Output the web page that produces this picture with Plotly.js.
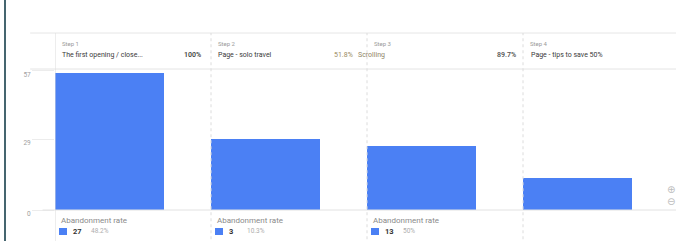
<!DOCTYPE html>
<html>
<head>
<meta charset="utf-8">
<script src="https://cdn.plot.ly/plotly-3.0.1.min.js"></script>
<style>html,body{margin:0;padding:0;background:#fff;}#chart{width:676px;height:241px;}</style>
</head>
<body>
<div id="chart"></div>
<script>
// ---- data ----
const stepLabels = ["Step 1", "Step 2", "Step 3", "Step 4"];
const stepTitles = ["The first opening / close...", "Page - solo travel", "Scrolling", "Page - tips to save 50%"];
const stepUsers = [56, 29, 26, 13];
const stepPct = ["100%", "51.8%", "89.7%", ""];
const abandonCount = [27, 3, 13];
const abandonRate = ["48.2%", "10.3%", "50%"];
const yTickVals = [0, 29, 57];
const yTickText = ["0", "29", "57"];

// ---- styles ----
const BLUE = "#4b80f4";
const FONT = "Roboto, 'Open Sans', sans-serif";
const pctColors = ["#444444", "#9a8b5f", "#555555", "#555555"];
const titleColors = ["#3a3a3a", "#3a3a3a", "#8f8566", "#3a3a3a"];
const titleShift = [5, 5, -11, 6];

const xIdx = stepUsers.map((_, i) => i);

const trace = {
  type: "bar",
  x: xIdx,
  y: stepUsers,
  width: 0.7,
  offset: 0,
  marker: { color: BLUE, line: { width: 0 } },
  hoverinfo: "skip"
};

const shapes = [];
const annotations = [];

// left dark frame line
shapes.push({ type: "line", xref: "paper", yref: "paper", x0: -0.0805, x1: -0.0805, y0: -0.25, y1: 1.5,
  line: { color: "#45656f", width: 2 } });
// header top and bottom lines, baseline
shapes.push({ type: "line", xref: "paper", yref: "paper", x0: -0.04, x1: 1.01, y0: 1.2553, y1: 1.2553,
  line: { color: "#e6e6e6", width: 1 } });
shapes.push({ type: "line", xref: "paper", yref: "paper", x0: -0.04, x1: 1.01, y0: 1, y1: 1,
  line: { color: "#e4e4e4", width: 1 } });
shapes.push({ type: "line", xref: "paper", yref: "paper", x0: -0.02, x1: 1.01, y0: 0, y1: 0,
  line: { color: "#e2e2e2", width: 1 } });

xIdx.forEach(i => {
  // column separators
  shapes.push({ type: "line", xref: "x", yref: "paper", x0: i, x1: i, y0: -0.25, y1: 1.2553,
    line: { color: "#dcdcdc", width: 1, dash: i === 0 ? "solid" : "dot" } });
  // header texts
  annotations.push({ xref: "x", yref: "paper", x: i, y: 1, xanchor: "left", yanchor: "middle",
    xshift: 5, yshift: 26, showarrow: false, text: stepLabels[i],
    font: { family: FONT, size: 6, color: "#9a9a9a" } });
  annotations.push({ xref: "x", yref: "paper", x: i, y: 1, xanchor: "left", yanchor: "middle",
    xshift: titleShift[i], yshift: 14, showarrow: false, text: stepTitles[i],
    font: { family: FONT, size: 7, color: titleColors[i] } });
  if (stepPct[i]) {
    annotations.push({ xref: "x", yref: "paper", x: i + 1, y: 1, xanchor: "right", yanchor: "middle",
      xshift: i === 1 ? -12 : (i === 2 ? -5 : -8), yshift: 14, showarrow: false, text: stepPct[i],
      font: { family: FONT, size: 7, color: pctColors[i], weight: i === 1 ? 400 : 600 } });
  }
});

// abandonment footers
abandonCount.forEach((c, i) => {
  annotations.push({ xref: "x", yref: "y", x: i, y: 0, xanchor: "left", yanchor: "middle",
    xshift: 4, yshift: -10, showarrow: false, text: "Abandonment rate",
    font: { family: FONT, size: 8, color: "#8a8a8a" } });
  shapes.push({ type: "rect", xref: "x", yref: "paper", xsizemode: "pixel", ysizemode: "pixel",
    xanchor: i, yanchor: 0, x0: 4, x1: 12, y0: -18, y1: -25,
    fillcolor: BLUE, line: { width: 0 } });
  annotations.push({ xref: "x", yref: "y", x: i, y: 0, xanchor: "left", yanchor: "middle",
    xshift: 16, yshift: -21, showarrow: false, text: "<b>" + c + "</b>",
    font: { family: FONT, size: 7.5, color: "#333333" } });
  annotations.push({ xref: "x", yref: "y", x: i, y: 0, xanchor: "left", yanchor: "middle",
    xshift: 34, yshift: -21, showarrow: false, text: abandonRate[i],
    font: { family: FONT, size: 6.5, color: "#adadad" } });
});

// zoom controls
annotations.push({ xref: "paper", yref: "paper", x: 0.992, y: 0.142, xanchor: "center", yanchor: "middle",
  showarrow: false, text: "⊕", font: { family: "DejaVu Sans", size: 10, color: "#bdbdbd" } });
annotations.push({ xref: "paper", yref: "paper", x: 0.992, y: 0.057, xanchor: "center", yanchor: "middle",
  showarrow: false, text: "⊖", font: { family: "DejaVu Sans", size: 10, color: "#bdbdbd" } });

const layout = {
  width: 676, height: 241,
  margin: { l: 55, r: 0, t: 69, b: 31, pad: 0 },
  paper_bgcolor: "#ffffff", plot_bgcolor: "#ffffff",
  showlegend: false,
  bargap: 0,
  font: { family: FONT },
  xaxis: { range: [0, 621 / 156], showgrid: false, zeroline: false, showticklabels: false,
    ticks: "", showline: false, fixedrange: true },
  yaxis: { range: [0, 57.6], tickmode: "array", tickvals: yTickVals, ticktext: yTickText,
    showgrid: false, zeroline: false, showline: false,
    ticks: "outside", ticklen: 22, tickcolor: "#ececec", tickwidth: 1,
    ticklabelposition: "outside", ticklabelshift: 4,
    tickfont: { family: FONT, size: 6.5, color: "#a0a0a0" }, fixedrange: true },
  shapes: shapes,
  annotations: annotations
};

Plotly.newPlot("chart", [trace], layout, { displayModeBar: false, staticPlot: true });
</script>
</body>
</html>
